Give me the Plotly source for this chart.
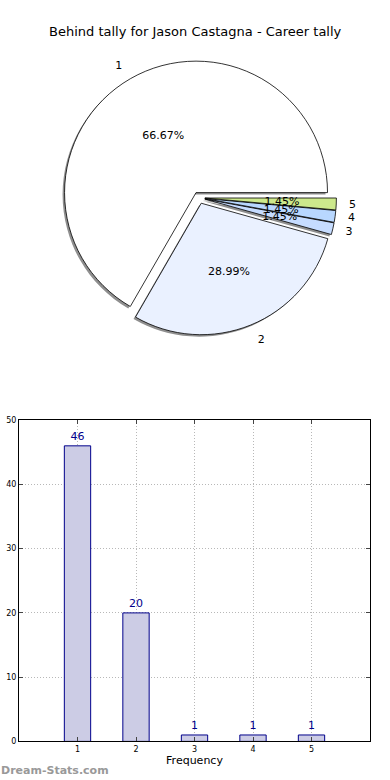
import plotly.graph_objects as go

# Data
categories = ["1", "2", "3", "4", "5"]
counts = [46, 20, 1, 1, 1]
pie_colors = ["#FFFFFF", "#EAF1FF", "#C6DCFF", "#B8D7FF", "#CDE98C"]
bar_fill = "#CCCCE5"
bar_edge = "#00008B"
title_text = "Behind tally for Jason Castagna - Career tally"

FONT = "DejaVu Sans"
W, H = 390, 780

def px_x(p):
    return p / W

def px_y(p):
    return 1 - p / H

def domain(cx, cy, D, dx=0, dy=0):
    return dict(x=[px_x(cx - D / 2 + dx), px_x(cx + D / 2 + dx)],
                y=[px_y(cy + D / 2 + dy), px_y(cy - D / 2 + dy)])

# pie geometry (pixels)
cx, cy, D = 199, 196, 278

pull = [0.045] * len(counts)
ROT = -150
common = dict(labels=categories, values=counts, sort=False,
              direction="counterclockwise", rotation=ROT, pull=pull,
              showlegend=False)

fig = go.Figure()

# shadow
fig.add_trace(go.Pie(
    **common, domain=domain(cx, cy, D, -2, 2),
    marker=dict(colors=["#8f8f8f"] * 5, line=dict(width=0)),
    textinfo="none", hoverinfo="skip",
))

# main pie; percentages for the two big slices
big_tmpl = ["%{percent:.2%}" if v > 5 else "" for v in counts]
fig.add_trace(go.Pie(
    **common, domain=domain(cx, cy, D),
    marker=dict(colors=pie_colors, line=dict(color="#000000", width=0.8)),
    texttemplate=big_tmpl, textposition="inside",
    insidetextorientation="horizontal",
    textfont=dict(family=FONT, size=11, color="#000000"),
))

# percentages for the thin slices (transparent helper ring, smaller radius)
small_tmpl = ["%{percent:.2%}" if v <= 5 else "" for v in counts]
fig.add_trace(go.Pie(
    **common, domain=domain(cx, cy, D * 0.63),
    marker=dict(colors=["rgba(0,0,0,0)"] * 5, line=dict(width=0)),
    texttemplate=small_tmpl, textposition="inside",
    insidetextorientation="horizontal",
    textfont=dict(family=FONT, size=11, color="#000000"),
    hoverinfo="skip",
))

# outer labels
fig.add_trace(go.Pie(
    **common, domain=domain(cx, cy, D * 1.07),
    marker=dict(colors=["rgba(0,0,0,0)"] * 5, line=dict(width=0)),
    texttemplate="%{label}", textposition="outside",
    outsidetextfont=dict(family=FONT, size=11, color="#000000"),
    hoverinfo="skip",
))

# bar chart
fig.add_trace(go.Bar(
    x=[int(c) for c in categories], y=counts, width=0.45,
    marker=dict(color=bar_fill, line=dict(color=bar_edge, width=1)),
    text=[str(v) for v in counts], textposition="outside",
    textfont=dict(family=FONT, size=11, color=bar_edge),
    cliponaxis=False, showlegend=False, xaxis="x", yaxis="y",
))

grid = dict(showgrid=True, gridcolor="#b8b8b8", griddash="1px,2px", gridwidth=1)
fig.update_layout(
    width=W, height=H,
    margin=dict(l=0, r=0, t=0, b=0),
    paper_bgcolor="white", plot_bgcolor="white",
    font=dict(family=FONT, color="#000000"),
    uniformtext=dict(minsize=11, mode="show"),
    xaxis=dict(
        domain=[px_x(19), px_x(370)], anchor="y", range=[0, 6],
        tickvals=[1, 2, 3, 4, 5], ticktext=categories,
        tickfont=dict(size=8, family=FONT), ticks="inside", ticklen=4,
        showline=True, linecolor="#000000", linewidth=1, mirror="ticks",
        zeroline=False, **grid,
        title=dict(text="Frequency", font=dict(size=11, family=FONT), standoff=3),
    ),
    yaxis=dict(
        domain=[px_y(746), px_y(421)], anchor="x", range=[0, 50],
        tickvals=[0, 10, 20, 30, 40, 50],
        tickfont=dict(size=8, family=FONT), ticks="inside", ticklen=4,
        showline=True, linecolor="#000000", linewidth=1, mirror="ticks",
        zeroline=False, **grid,
    ),
    annotations=[
        dict(text=title_text, x=0.5, y=px_y(28), xref="paper", yref="paper",
             xanchor="center", yanchor="middle", showarrow=False,
             font=dict(family=FONT, size=13, color="#000000")),
        dict(text="<b>Dream-Stats.com</b>", x=0, y=px_y(775), xref="paper", yref="paper",
             xanchor="left", yanchor="middle", showarrow=False, borderpad=0,
             font=dict(family=FONT, size=11, color="#999999")),
    ],
)

fig.write_html(
    "out.html",
    config={"displayModeBar": False},
    post_script=("document.documentElement.style.margin='0px';"
                 "document.body.style.margin='0px';document.body.style.padding='0px';"
                 "document.body.style.overflow='hidden';"),
)
